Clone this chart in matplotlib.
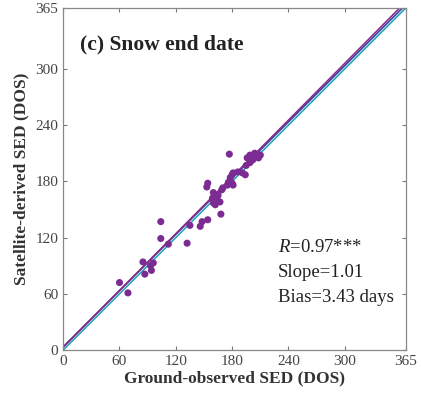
import numpy as np
import matplotlib
matplotlib.use('Agg')
import matplotlib.pyplot as plt

plt.rcParams['font.family'] = ['Liberation Serif', 'DejaVu Serif']
plt.rcParams['mathtext.fontset'] = 'custom'
plt.rcParams['mathtext.rm'] = 'Liberation Serif'
plt.rcParams['mathtext.it'] = 'Liberation Serif:italic'

# ground-observed vs satellite-derived snow end date (day of season)
ground_sed = [69, 60, 87, 94, 93, 96, 85, 104, 104, 112, 132, 135, 146, 148, 154,
              168, 162, 160, 164, 167, 159, 162, 160, 165, 169, 170, 154, 153,
              175, 181, 176, 180, 178, 180, 181, 186, 191, 194, 195, 199, 177,
              199, 204, 208, 202, 210, 196]
satellite_sed = [61, 72, 81, 85, 90, 93, 94, 119, 137, 113, 114, 133, 132, 137, 139,
                 145, 155, 157, 160, 158, 162, 163, 168, 165, 171, 173, 178, 174,
                 176, 176, 179, 178, 184, 187, 189, 190, 189, 187, 197, 200, 209,
                 208, 210, 205, 203, 208, 205]

# reference lines: (slope, intercept, colour)
line_specs = [(1.0, 0.0, '#2aa7b8'), (1.0, 3.43, '#3b4aa8'), (1.01, 2.9, '#8a2a8a')]

ticks = [0, 60, 120, 180, 240, 300, 365]
stats = ['$\\it{R}$=0.97***', 'Slope=1.01', 'Bias=3.43 days']

fig = plt.figure(figsize=(4.21, 3.96), dpi=100)
ax = fig.add_axes([0.150, 0.116, 0.814, 0.864])

xs = np.array([0, 365])
for slope, icpt, col in line_specs:
    ax.plot(xs, slope * xs + icpt, color=col, lw=1.2, zorder=2)

ax.scatter(ground_sed, satellite_sed, s=26, color='#7b2b92', edgecolors='none', zorder=3)

ax.set_xlim(0, 365)
ax.set_ylim(0, 365)
ax.set_xticks(ticks)
ax.set_yticks(ticks)
ax.tick_params(direction='in', top=True, right=True, length=3, width=0.8,
               colors='#777777', labelcolor='#444444', labelsize=11)
for sp in ax.spines.values():
    sp.set_color('#888888')
    sp.set_linewidth(0.9)

ax.set_xlabel('Ground-observed SED (DOS)', fontsize=12.5, fontweight='bold', color='#333333', labelpad=2)
ax.set_ylabel('Satellite-derived SED (DOS)', fontsize=12.5, fontweight='bold', color='#333333', labelpad=4)

ax.text(0.05, 0.892, '(c) Snow end date', transform=ax.transAxes, fontsize=15.5,
        fontweight='bold', color='#222222', va='center')
for i, s in enumerate(stats):
    ax.text(0.627, 0.301 - i * 0.073, s, transform=ax.transAxes, fontsize=13.5,
            color='#222222', va='center')

fig.savefig('out.png', dpi=100)
